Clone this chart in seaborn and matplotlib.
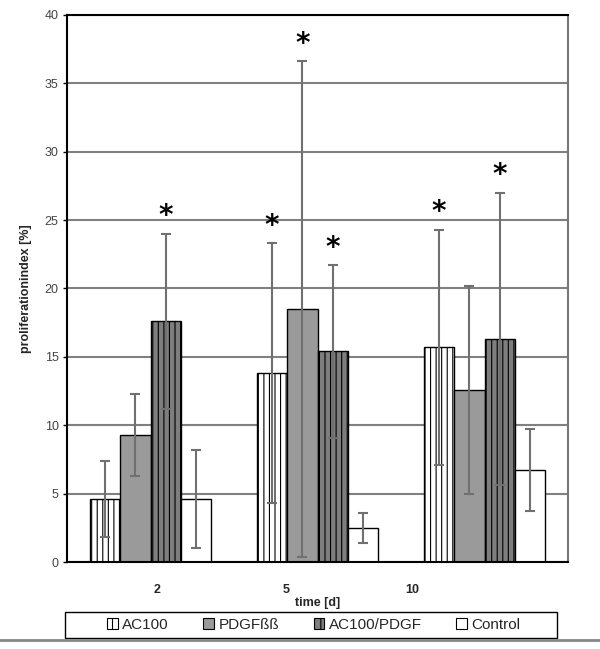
import pandas as pd
import matplotlib.pyplot as plt
import seaborn as sns
from matplotlib.patches import Patch, Rectangle
from matplotlib.lines import Line2D

days = ["2", "5", "10"]
groups = ["AC100", "PDGFßß", "AC100/PDGF", "Control"]
means = {
    "AC100":      [4.6, 13.8, 15.7],
    "PDGFßß":     [9.3, 18.5, 12.6],
    "AC100/PDGF": [17.6, 15.4, 16.3],
    "Control":    [4.6, 2.5, 6.7],
}
errs = {
    "AC100":      [2.8, 9.5, 8.6],
    "PDGFßß":     [3.0, 18.1, 7.6],
    "AC100/PDGF": [6.4, 6.3, 10.7],
    "Control":    [3.6, 1.1, 3.0],
}
# which bars carry a significance star
stars = {
    "AC100":      [False, True, True],
    "PDGFßß":     [False, True, False],
    "AC100/PDGF": [True, True, True],
    "Control":    [False, False, False],
}
tick_pos = [0.04, 0.81, 1.57]

rows = []
for g in groups:
    for d, m in zip(days, means[g]):
        rows.append({"time": d, "group": g, "value": m})
df = pd.DataFrame(rows)

sns.set_style("white")
plt.rcParams['font.family'] = ['Liberation Sans', 'DejaVu Sans']
plt.rcParams['hatch.linewidth'] = 0.8

fig = plt.figure(figsize=(6, 6.49), dpi=100)
ax = fig.add_axes([0.1117, 0.134, 0.835, 0.843])

fills = {"AC100": "white", "PDGFßß": "#9a9a9a", "AC100/PDGF": "#7e7e7e", "Control": "white"}
hatches = {"AC100": "|||", "PDGFßß": "", "AC100/PDGF": "|||", "Control": ""}

sns.barplot(data=df, x="time", y="value", hue="group", order=days, hue_order=groups,
            palette=fills, width=0.73, edgecolor="black", linewidth=1.0,
            errorbar=None, legend=False, ax=ax, zorder=2)

for g, cont in zip(groups, ax.containers):
    for i, bar in enumerate(cont):
        bar.set_hatch(hatches[g])
        bar.set_edgecolor("black")
        x = bar.get_x() + bar.get_width() / 2
        ax.errorbar(x, means[g][i], yerr=errs[g][i], fmt="none", ecolor="#707070",
                    elinewidth=1.5, capsize=3.5, capthick=1.5, zorder=3)
        if stars[g][i]:
            ax.text(x, means[g][i] + errs[g][i] + 0.25, "*", ha="center", va="bottom",
                    fontsize=20, fontweight="bold", color="black",
                    family=['DejaVu Sans'])

ax.set_ylim(0, 40)
ax.set_xlim(-0.5, 2.5)
ax.set_yticks(range(0, 41, 5))
ax.yaxis.grid(True, color="#808080", linewidth=1.5, zorder=0)
ax.set_axisbelow(True)
ax.tick_params(axis="y", labelsize=9, labelcolor="#444444", left=True, length=3, width=1, color="black", pad=3)
ax.set_xticks(tick_pos)
ax.set_xticklabels(days, fontsize=9, fontweight="bold")
ax.tick_params(axis="x", bottom=False, pad=12)
ax.set_xlabel("time [d]", fontsize=9, fontweight="bold", labelpad=1)
ax.set_ylabel("proliferationindex [%]", fontsize=9, fontweight="bold", labelpad=9)

ax.spines["left"].set_color("black")
ax.spines["bottom"].set_color("black")
ax.spines["top"].set_color("black")
ax.spines["right"].set_color("#777777")
for s in ax.spines.values():
    s.set_linewidth(1.5)

handles = [Patch(facecolor=fills[g], edgecolor="black", hatch=hatches[g][:1] * 2, linewidth=0.8) for g in groups]
fig.legend(handles, groups, loc="center", bbox_to_anchor=(0.523, 0.037),
           ncol=4, fontsize=11, frameon=False,
           handlelength=0.7, handleheight=0.7, handletextpad=0.3, columnspacing=2.25,
           borderaxespad=0, borderpad=0)
fig.add_artist(Rectangle((0.108, 0.017), 0.82, 0.04, transform=fig.transFigure,
                         facecolor="none", edgecolor="black", linewidth=1.0))

fig.add_artist(Line2D([0, 1], [0.014, 0.014], color="#888888", linewidth=2, transform=fig.transFigure))

fig.savefig("out.png", dpi=100)
